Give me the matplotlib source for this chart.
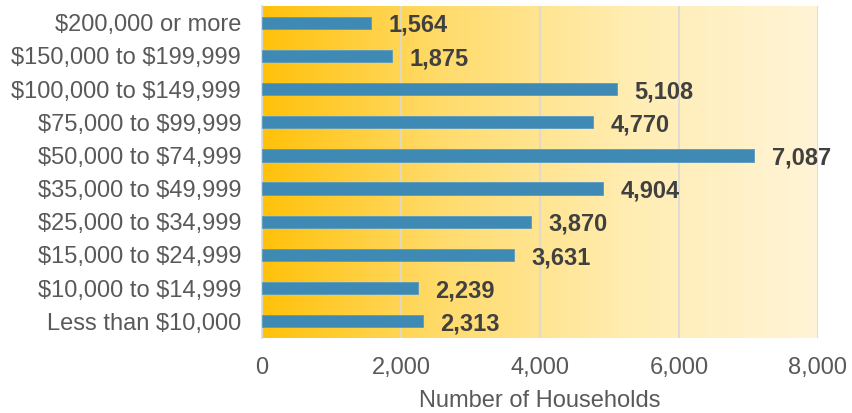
import matplotlib
matplotlib.use("Agg")
import matplotlib.pyplot as plt
import numpy as np
from matplotlib.colors import LinearSegmentedColormap

plt.rcParams['font.family'] = ['Liberation Sans', 'DejaVu Sans']
plt.rcParams['text.parse_math'] = False

categories = ["Less than $10,000", "$10,000 to $14,999", "$15,000 to $24,999",
              "$25,000 to $34,999", "$35,000 to $49,999", "$50,000 to $74,999",
              "$75,000 to $99,999", "$100,000 to $149,999", "$150,000 to $199,999",
              "$200,000 or more"]
values = [2313, 2239, 3631, 3870, 4904, 7087, 4770, 5108, 1875, 1564]
xticks = [0, 2000, 4000, 6000, 8000]
xtick_labels = ["0", "2,000", "4,000", "6,000", "8,000"]

fig = plt.figure(figsize=(8.52, 4.13), dpi=100)
ax = fig.add_axes([0.3075, 0.182, 0.6525, 0.803])

cmap = LinearSegmentedColormap.from_list("bg", ["#FFC10A", "#FFDC6E", "#FFEDB3", "#FFF4D6"])
grad = np.linspace(0, 1, 256).reshape(1, -1)
ax.imshow(grad, aspect='auto', cmap=cmap, extent=[0, 8000, -0.5, 9.5], zorder=0)

y = np.arange(len(categories))
ax.barh(y, values, height=0.37, color="#3F89B5", edgecolor="#5A9AC0", linewidth=0.6, zorder=3)
for yi, v in zip(y, values):
    ax.text(v + 250, yi - 0.08, f"{v:,}", va='center', ha='left', fontsize=17,
            fontweight='bold', color='#404040', zorder=4)

ax.set_xlim(0, 8000)
ax.set_ylim(-0.5, 9.5)
ax.set_xticks(xticks)
ax.set_xticklabels(xtick_labels)
ax.set_yticks(y)
ax.set_yticklabels(categories)
ax.tick_params(axis='both', length=0, labelsize=17, colors='#595959')
ax.tick_params(axis='y', pad=15)
ax.tick_params(axis='x', pad=14)
ax.xaxis.grid(True, color='#D9D9D9', linewidth=1.2, zorder=1)
ax.set_axisbelow(False)
for s in ['top', 'right', 'bottom']:
    ax.spines[s].set_visible(False)
ax.spines['left'].set_color('#D9D9D9')
ax.spines['left'].set_linewidth(1.2)
ax.set_xlabel("Number of Households", fontsize=17, color='#595959', labelpad=8)

fig.savefig("out.png", dpi=100)
